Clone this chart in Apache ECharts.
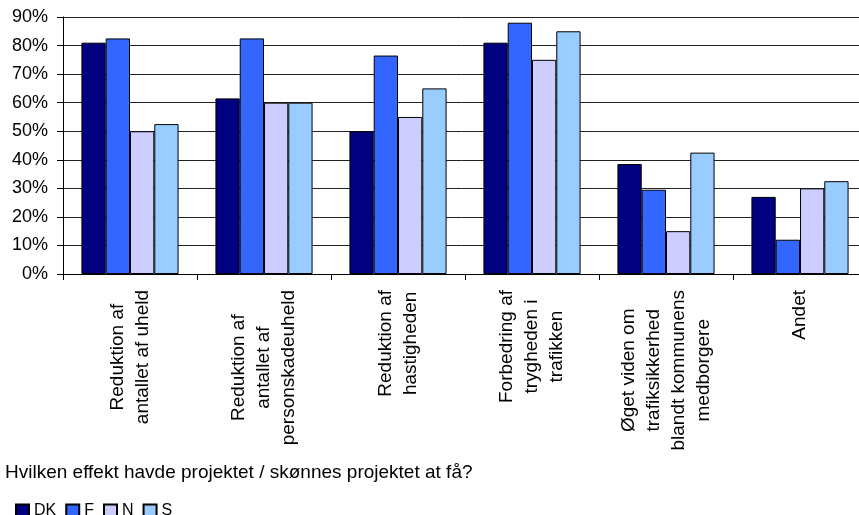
<!DOCTYPE html>
<html>
<head>
<meta charset="utf-8">
<script src="https://cdn.jsdelivr.net/npm/echarts@6/dist/echarts.min.js"></script>
<style>html,body{margin:0;padding:0;background:#fff;}#c{width:859px;height:515px;}</style>
</head>
<body>
<div id="c"></div>
<script>
var categories = [
  "Reduktion af\nantallet af uheld",
  "Reduktion af\nantallet af\npersonskadeuheld",
  "Reduktion af\nhastigheden",
  "Forbedring af\ntrygheden i\ntrafikken",
  "Øget viden om\ntrafiksikkerhed\nblandt kommunens\nmedborgere",
  "Andet"
];
var seriesNames = ["DK", "F", "N", "S"];
var valuesDK = [81, 61.5, 50, 81, 38.5, 27];
var valuesF  = [82.5, 82.5, 76.5, 88, 29.5, 12];
var valuesN  = [50, 60, 55, 75, 15, 30];
var valuesS  = [52.5, 60, 65, 85, 42.5, 32.5];
var yTicks = [0, 10, 20, 30, 40, 50, 60, 70, 80, 90];
var xTitle = "Hvilken effekt havde projektet / skønnes projektet at få?";

var colors = ["#000080", "#3366FF", "#CCCCFF", "#99CCFF"];
var allValues = [valuesDK, valuesF, valuesN, valuesS];
var FONT = "'Liberation Sans', Arial, sans-serif";

var chart = echarts.init(document.getElementById('c'), null, {renderer: 'canvas'});
var option = {
  animation: false,
  backgroundColor: '#fff',
  color: colors,
  title: {
    text: xTitle,
    left: 5, top: 463, padding: 0,
    textStyle: {fontFamily: FONT, fontSize: 19, fontWeight: 'normal', color: '#000'}
  },
  legend: {
    data: seriesNames,
    left: 15, top: 503, padding: 0,
    itemWidth: 13, itemHeight: 13, itemGap: 9,
    icon: 'rect',
    textStyle: {fontFamily: FONT, fontSize: 16, color: '#000'}
  },
  grid: {left: 63, top: 17, width: 804, height: 257, containLabel: false, outerBoundsMode: 'none'},
  xAxis: {
    type: 'category',
    data: categories,
    axisLine: {show: true, lineStyle: {color: '#000', width: 1}},
    axisTick: {show: true, length: 6, lineStyle: {color: '#000'}},
    axisLabel: {
      interval: 0,
      rotate: 90,
      margin: 16,
      color: '#000',
      fontFamily: FONT,
      fontSize: 19,
      lineHeight: 25,
      formatter: function (v) {
        return v.split('\n').map(function (l) { return '{c|' + l + '}'; }).join('\n');
      },
      rich: {c: {align: 'center', fontFamily: FONT, fontSize: 19, lineHeight: 25, color: '#000'}}
    }
  },
  yAxis: {
    type: 'value',
    min: yTicks[0], max: yTicks[yTicks.length - 1], interval: 10,
    axisLine: {show: true, lineStyle: {color: '#000', width: 1}},
    axisTick: {show: true, length: 6, lineStyle: {color: '#000'}},
    axisLabel: {margin: 15, color: '#000', fontFamily: FONT, fontSize: 18, formatter: '{value}%'},
    splitLine: {show: true, lineStyle: {color: '#222', width: 1}}
  },
  series: seriesNames.map(function (name, i) {
    return {
      name: name,
      type: 'bar',
      data: allValues[i],
      barGap: '0%',
      barCategoryGap: '27.5%',
      itemStyle: {color: colors[i], borderColor: '#000', borderWidth: 1}
    };
  })
};
chart.setOption(option);
</script>
</body>
</html>
